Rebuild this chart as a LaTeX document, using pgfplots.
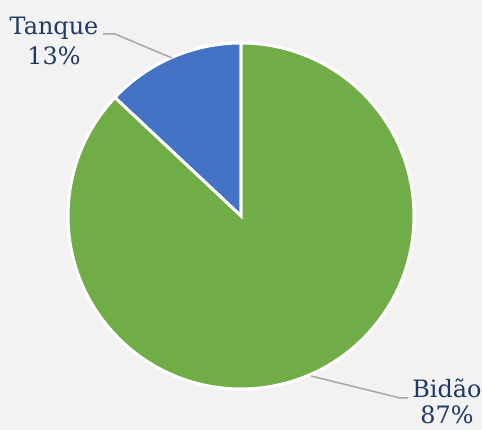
\documentclass[border=0pt]{standalone}
\usepackage{pgfplots}
\pgfplotsset{compat=1.18}
\usepackage{pgfplotstable}
\usepackage{fontspec}
\setmainfont{DejaVu Serif}
\definecolor{bg}{HTML}{F2F2F2}
\definecolor{pgreen}{HTML}{70AD47}
\definecolor{pblue}{HTML}{4472C4}
\definecolor{txt}{HTML}{1F3864}
\definecolor{lead}{HTML}{A6A6A6}
\pgfplotstableread{
idx value
0 13
1 87
}\piedata
\begin{document}
\begin{tikzpicture}
\pgfplotstablegetelem{0}{value}\of\piedata \let\vA\pgfplotsretval
\pgfplotstablegetelem{1}{value}\of\piedata \let\vB\pgfplotsretval
\pgfmathsetmacro{\aStart}{90}
\pgfmathsetmacro{\aMid}{90+\vA*3.6}
\pgfmathsetmacro{\aEnd}{\aMid+\vB*3.6}
\begin{axis}[hide axis, x=1bp, y=1bp, xmin=0, xmax=482, ymin=0, ymax=430,
  anchor=origin, at={(0,0)}, clip=false]
\fill[bg] (axis cs:0,0) rectangle (axis cs:482,430);
\fill[pblue, draw=white, line width=3bp, line join=miter] (axis cs:241,214) -- +(\aStart:173bp) arc[start angle=\aStart, end angle=\aMid, radius=173bp] -- cycle;
\fill[pgreen, draw=white, line width=3bp, line join=miter] (axis cs:241,214) -- +(\aMid:173bp) arc[start angle=\aMid, end angle=\aEnd, radius=173bp] -- cycle;
\draw[lead, line width=1.5bp] (axis cs:103,396) -- (axis cs:115,396) -- (axis cs:172,372);
\draw[lead, line width=1.5bp] (axis cs:311,54) -- (axis cs:400,32) -- (axis cs:408,32);
\node[txt, anchor=base, font=\fontsize{24}{28}\selectfont, inner sep=0pt] at (axis cs:54,395) {Tanque};
\node[txt, anchor=base, font=\fontsize{24}{28}\selectfont, inner sep=0pt] at (axis cs:54,366) {13\%};
\node[txt, anchor=base, font=\fontsize{24}{28}\selectfont, inner sep=0pt] at (axis cs:447,33) {Bidão};
\node[txt, anchor=base, font=\fontsize{24}{28}\selectfont, inner sep=0pt] at (axis cs:447,7) {87\%};
\end{axis}
\pgfresetboundingbox
\useasboundingbox (0,0) rectangle (482bp,430bp);
\end{tikzpicture}
\end{document}
